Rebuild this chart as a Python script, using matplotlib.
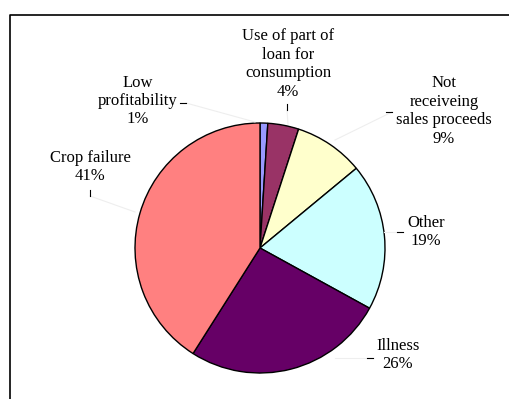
import matplotlib.pyplot as plt

labels = ['Low\nprofitability', 'Use of part of\nloan for\nconsumption', 'Not\nreceiveing\nsales proceeds',
          'Other', 'Illness', 'Crop failure']
shares = [1, 4, 9, 19, 26, 41]
colors = ['#9999FF', '#993366', '#FFFFCC', '#CCFFFF', '#660066', '#FF8080']

# label placement in pixel coords (x, y from top), tick mark start/end
label_pos = [(138, 101), (288, 64), (444, 111), (426, 232), (398, 355), (90, 167)]
ticks = [((180, 103), (186, 103)), ((287, 104), (287, 110)), ((386, 112), (392, 112)),
         ((397, 232), (403, 232)), ((367, 358), (373, 358)), ((90, 190), (90, 196))]
leader_end = [(255, 122), (288, 124), (335, 140), (384, 232), (335, 358), (135, 212)]

W, H = 510, 399
fig = plt.figure(figsize=(W / 100, H / 100), dpi=100)
ax = fig.add_axes([0, 0, 1, 1])

ax.pie(shares, colors=colors, startangle=90, counterclock=False, center=(260, H - 248), radius=125,
       wedgeprops=dict(edgecolor='black', linewidth=1))
ax.set_xlim(0, W)
ax.set_ylim(0, H)
ax.set_aspect('equal')
ax.axis('off')

for lab, s, (x, y), (a, b), le in zip(labels, shares, label_pos, ticks, leader_end):
    ax.text(x, H - y, lab + '\n' + str(s) + '%', ha='center', va='center', fontsize=12,
            family='Liberation Serif', linespacing=1.2)
    ax.plot([b[0], le[0]], [H - b[1], H - le[1]], color='#eeeeee', lw=0.8)
    ax.plot([a[0], b[0]], [H - a[1], H - b[1]], color='black', lw=0.8)

# chart frame (partly cut off)
ax.plot([10, 10, W], [0, H - 15, H - 15], color='black', lw=1.2)

plt.savefig('out.png', dpi=100)
